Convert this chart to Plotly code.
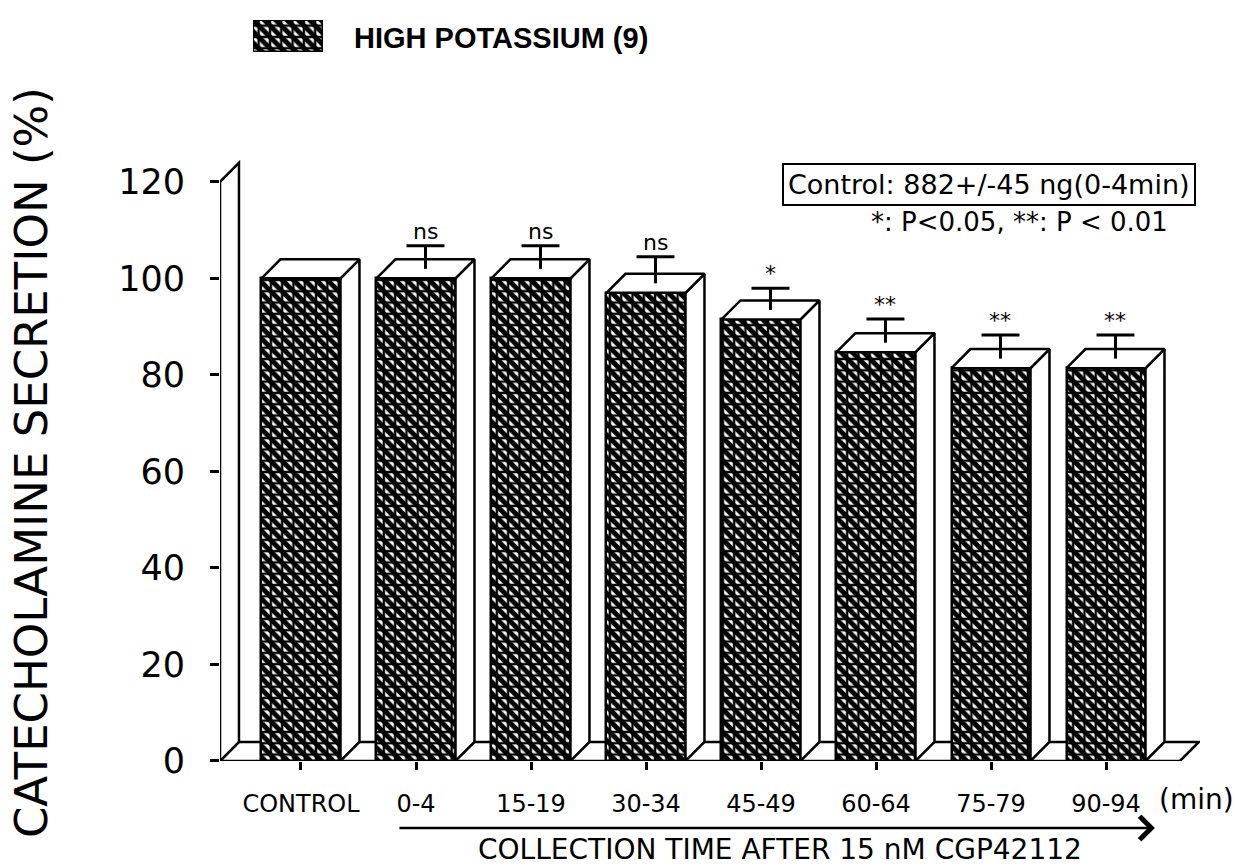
import plotly.graph_objects as go

# ---------------- data ----------------
categories = ["CONTROL", "0-4", "15-19", "30-34", "45-49", "60-64", "75-79", "90-94"]
secretion = [100, 100, 100, 97, 91.5, 84.7, 81.4, 81.4]
sem = [0, 4.8, 4.8, 5.5, 4.5, 4.9, 4.9, 4.9]
significance = ["", "ns", "ns", "ns", "*", "**", "**", "**"]
y_ticks = [0, 20, 40, 60, 80, 100, 120]
legend_label = "HIGH POTASSIUM (9)"
control_note = "Control: 882+/-45 ng(0-4min)"
p_note = "*: P<0.05, **: P < 0.01"
x_title = "COLLECTION TIME AFTER 15 nM CGP42112"
y_title = "CATECHOLAMINE SECRETION (%)"
unit_label = "(min)"

# ---------------- style ----------------
FONT = "DejaVu Sans, Verdana, sans-serif"
BOLD_FONT = "Liberation Sans, Arial, Helvetica, sans-serif"
LW = 2.5
BW = 0.687          # bar front width (category units)
DX = 0.165          # 3-D depth offset in x (category units)
DY = 3.94           # 3-D depth offset in y (data units)
CAP = 0.165         # half width of error-bar caps (category units)
X_RANGE = [-0.7043, 7.8174]
Y_RANGE = [0, 126.6]
Y_DOMAIN = [0, 0.8136]
FLOOR_RIGHT = 7.643
WALL_TOP = 120

xpos = list(range(len(categories)))

fig = go.Figure()

stripe_pattern = dict(shape="\\", size=8, solidity=0.62, fgcolor="black", bgcolor="white", fillmode="replace")
grid_pattern = dict(shape="+", size=11.3, solidity=0.38, fgcolor="black", bgcolor="rgba(0,0,0,0)", fillmode="replace")

# front faces of the bars (two overlaid pattern layers)
fig.add_trace(go.Bar(x=xpos, y=secretion, width=BW,
                     marker=dict(color="white", pattern=stripe_pattern, line=dict(width=0)),
                     showlegend=False, hoverinfo="skip"))
fig.add_trace(go.Bar(x=xpos, y=secretion, width=BW,
                     marker=dict(color="rgba(0,0,0,0)", pattern=grid_pattern,
                                 line=dict(color="black", width=LW)),
                     showlegend=False, hoverinfo="skip"))

# side and top faces of the 3-D boxes
side_x, side_y, top_x, top_y = [], [], [], []
for i, v in zip(xpos, secretion):
    xl, xr = i - BW / 2, i + BW / 2
    side_x += [xr, xr, xr + DX, xr + DX, xr, None]
    side_y += [0, v, v + DY, DY, 0, None]
    top_x += [xl, xr, xr + DX, xl + DX, xl, None]
    top_y += [v, v, v + DY, v + DY, v, None]
fig.add_trace(go.Scatter(x=side_x, y=side_y, mode="lines", fill="toself", fillcolor="white",
                         line=dict(color="black", width=LW), showlegend=False, hoverinfo="skip"))
fig.add_trace(go.Scatter(x=top_x, y=top_y, mode="lines", fill="toself", fillcolor="white",
                         line=dict(color="black", width=LW), showlegend=False, hoverinfo="skip"))

# upper error bars, rising from the middle of the top face
err_x, err_y = [], []
annotations = []
for i, v, e, s in zip(xpos, secretion, sem, significance):
    if e > 0:
        xm = i + DX / 2
        base = v + DY / 2
        top = base + e
        err_x += [xm, xm, None, xm - CAP, xm + CAP, None]
        err_y += [base, top, None, top, top, None]
    if s:
        annotations.append(dict(x=i + DX / 2, y=v + DY / 2 + e, xref="x", yref="y", text=s,
                                showarrow=False, yanchor="bottom", yshift=0,
                                font=dict(size=22, family=FONT, color="black")))
fig.add_trace(go.Scatter(x=err_x, y=err_y, mode="lines", line=dict(color="black", width=3),
                         showlegend=False, hoverinfo="skip"))

# legend swatch on its own small axes
fig.add_trace(go.Bar(x=[0], y=[1], width=1, xaxis="x2", yaxis="y2",
                     marker=dict(color="white", pattern=stripe_pattern, line=dict(width=0)),
                     showlegend=False, hoverinfo="skip"))
fig.add_trace(go.Bar(x=[0], y=[1], width=1, xaxis="x2", yaxis="y2",
                     marker=dict(color="rgba(0,0,0,0)", pattern=grid_pattern,
                                 line=dict(color="black", width=LW)),
                     showlegend=False, hoverinfo="skip"))

# floor and back wall
xl0 = X_RANGE[0]
floor_path = f"M{xl0},0 L{FLOOR_RIGHT},0 L{FLOOR_RIGHT + DX},{DY} L{xl0 + DX},{DY} Z"
wall_path = f"M{xl0},0 L{xl0},{WALL_TOP} L{xl0 + DX},{WALL_TOP + DY} L{xl0 + DX},{DY} Z"
shapes = [
    dict(type="path", path=floor_path, xref="x", yref="y", fillcolor="white",
         line=dict(color="black", width=LW), layer="below"),
    dict(type="path", path=wall_path, xref="x", yref="y", fillcolor="white",
         line=dict(color="black", width=LW), layer="below"),
]

# paper-coordinate text
annotations += [
    dict(text=f"<b>{legend_label}</b>", x=0.1347, y=0.9627, xref="paper", yref="paper",
         xanchor="left", yanchor="middle", showarrow=False,
         font=dict(size=29, family=BOLD_FONT, color="black")),
    dict(text=control_note, x=0.996, y=0.767, xref="paper", yref="paper",
         xanchor="right", yanchor="middle", showarrow=False, bordercolor="black",
         borderwidth=2, borderpad=4, bgcolor="white",
         font=dict(size=27, family=FONT, color="black")),
    dict(text=p_note, x=0.969, y=0.7177, xref="paper", yref="paper",
         xanchor="right", yanchor="middle", showarrow=False,
         font=dict(size=26, family=FONT, color="black")),
    dict(text=y_title, x=-0.1929, y=0.398, xref="paper", yref="paper", textangle=-90,
         xanchor="center", yanchor="middle", showarrow=False,
         font=dict(size=45, family=FONT, color="black")),
    dict(text=unit_label, x=0.956, y=-0.0519, xref="paper", yref="paper",
         xanchor="left", yanchor="middle", showarrow=False,
         font=dict(size=28, family=FONT, color="black")),
    dict(text=x_title, x=0.5714, y=-0.1425, xref="paper", yref="paper",
         xanchor="center", yanchor="bottom", showarrow=False,
         font=dict(size=28, family=FONT, color="black")),
    dict(text="", x=0.954, y=-0.0892, xref="paper", yref="paper", showarrow=True,
         ax=-757, ay=0, axref="pixel", ayref="pixel", arrowhead=4, arrowsize=1.8,
         arrowwidth=2.5, arrowcolor="black"),
]

fig.update_layout(
    width=1236, height=868,
    margin=dict(l=220, r=36, t=10, b=107),
    paper_bgcolor="white", plot_bgcolor="white",
    barmode="overlay", bargap=0,
    font=dict(family=FONT, color="black"),
    showlegend=False,
    shapes=shapes, annotations=annotations,
    xaxis=dict(range=X_RANGE, tickvals=xpos, ticktext=categories, ticks="outside", ticklen=8,
               tickwidth=LW, tickcolor="black", showline=False, showgrid=False, zeroline=False,
               tickfont=dict(size=24, family=FONT, color="black"), ticklabelstandoff=13,
               fixedrange=True),
    yaxis=dict(range=Y_RANGE, domain=Y_DOMAIN, tickvals=y_ticks, ticks="outside", ticklen=9,
               tickwidth=LW, tickcolor="black", showline=False, showgrid=False, zeroline=False,
               tickfont=dict(size=35, family=FONT, color="black"), ticklabelstandoff=18,
               fixedrange=True),
    xaxis2=dict(domain=[0.0337, 0.1051], range=[-0.5, 0.5], anchor="y2", visible=False),
    yaxis2=dict(domain=[0.9441, 0.9867], range=[0, 1], anchor="x2", visible=False),
)

fig.write_html("out.html")
